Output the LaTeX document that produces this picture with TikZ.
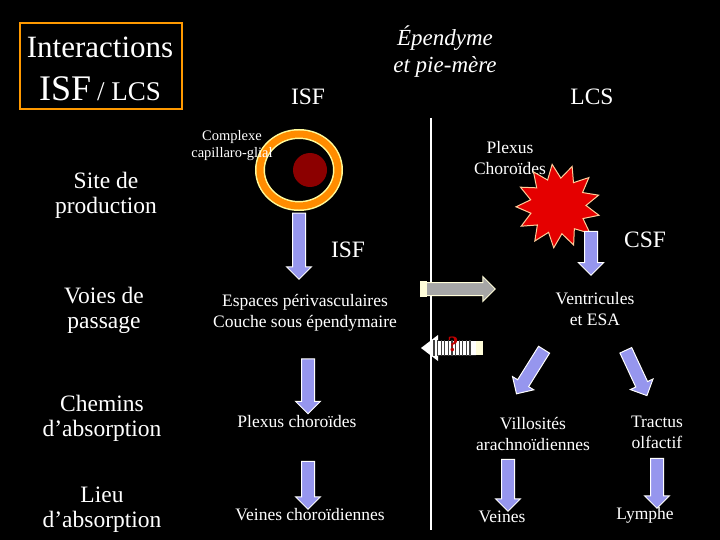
\documentclass[tikz,border=0pt]{standalone}
\usepackage{fontspec}
\setmainfont{Liberation Serif}
\usetikzlibrary{shapes.arrows,shapes.geometric}
\definecolor{lav}{RGB}{150,150,238}
\begin{document}
\begin{tikzpicture}[x=1pt,y=-1pt,
  txt/.style={text=white,align=center,inner sep=0pt,font=\fontsize{23.5}{25}\selectfont},
  mid/.style={txt,font=\fontsize{17.5}{21}\selectfont},
  blk/.style={single arrow,fill=lav,draw=white,line width=1pt,
    inner sep=6pt,single arrow head extend=6pt,single arrow head indent=0pt,anchor=center}]
\fill[black] (0,0) rectangle (720,540);
\useasboundingbox (0,0) rectangle (720,540);
% title box
\node[draw=orange!80!yellow,line width=2pt,minimum width=162,minimum height=86,inner sep=0pt] (box) at (101,66) {};
\node[txt,font=\fontsize{31}{33}\selectfont] (t1) at (100,47) {Interactions};
\node[txt] (t2) at (100,89) {{\fontsize{36}{38}\selectfont ISF} {\fontsize{27}{30}\selectfont / LCS}};
\node[txt,font=\itshape\fontsize{23}{27}\selectfont] (ep) at (445,52) {Épendyme\\et pie-mère};
\node[txt] (isf1) at (308,97) {ISF};
\node[txt] (lcs) at (592,97) {LCS};
\coordinate (lt) at (431,118); \coordinate (lb) at (431,530);
\draw[white,line width=1.5pt] (lt) -- (lb);
% row labels
\node[txt] (r1) at (106,195) {Site de\\production};
\node[txt] (r2) at (104,310) {Voies de\\passage};
\node[txt] (r3) at (102,418) {Chemins\\d’absorption};
\node[txt] (r4) at (102,510) {Lieu\\d’absorption};
% complexe
\node[ellipse,minimum width=78,minimum height=72,draw=yellow!40!white,line width=10pt] (ringo) at (299,170) {};
\node[ellipse,minimum width=78,minimum height=72,draw=orange!90!yellow,line width=7pt] (ring) at (299,170) {};
\node[circle,fill=red!55!black,minimum size=34] (core) at (310,170) {};
\node[txt,font=\fontsize{14.5}{17}\selectfont] (cx) at (232,146) {Complexe\\capillaro-glial};
\node[blk,minimum height=66,rotate=-90] (a1) at (299,243) {};
\node[txt] (isf2) at (348,250) {ISF};
% plexus
\node[txt,font=\fontsize{17.5}{21}\selectfont] (pc) at (510,158) {Plexus\\Choroïdes};
\node[star,star points=13,star point ratio=1.5,minimum size=84,fill=red!90!black,draw=orange!40!white,line width=1pt,rotate=8] (burst) at (558,206) {};
\node[blk,minimum height=44,rotate=-90] (a2) at (591,250) {};
\node[txt] (csf) at (645,240) {CSF};
% middle row
\node[mid] (esp) at (305,313) {Espaces périvasculaires\\Couche sous épendymaire};
\node[mid] (ven) at (595,309) {Ventricules\\et ESA};
% grey arrow
\node[single arrow,fill=gray!70,draw=yellow!15!white,line width=1pt,minimum height=72,inner sep=6pt,single arrow head extend=6pt,single arrow head indent=0pt] (ga) at (456,289) {};
\fill[yellow!15!white] (420,281) rectangle (427,297);
% striped arrow
\fill[white] (421,348) -- (438,335) -- (438,341) -- (476,341) -- (476,355) -- (438,355) -- (438,361) -- cycle;
\foreach \i in {0,...,10} \draw[gray!50!black,line width=1.3pt] (434+3.6*\i,340) -- (434+3.6*\i,356);
\fill[yellow!15!white] (476,341) rectangle (483,355);
\node[text=red!75!black,inner sep=0pt,font=\bfseries\fontsize{22}{22}\selectfont] (q) at (453,344) {?};
% left column
\node[blk,minimum height=55,rotate=-90] (a3) at (308,383) {};
\node[mid] (pc2) at (297,422) {Plexus choroïdes};
\node[blk,minimum height=48,rotate=-90] (a4) at (308,482) {};
\node[mid] (vc) at (310,515) {Veines choroïdiennes};
% right tree
\node[blk,minimum height=52,rotate=-122] (a5) at (532,369) {};
\node[blk,minimum height=50,rotate=-65] (a6) at (635,370) {};
\node[mid] (vil) at (533,434) {Villosités\\arachnoïdiennes};
\node[mid] (tr) at (657,432) {Tractus\\olfactif};
\node[blk,minimum height=52,rotate=-90] (a7) at (508,482) {};
\node[blk,minimum height=50,rotate=-90] (a8) at (657,480) {};
\node[mid] (vn) at (502,517) {Veines};
\node[mid] (ly) at (645,515) {Lymphe};
\end{tikzpicture}
\end{document}
